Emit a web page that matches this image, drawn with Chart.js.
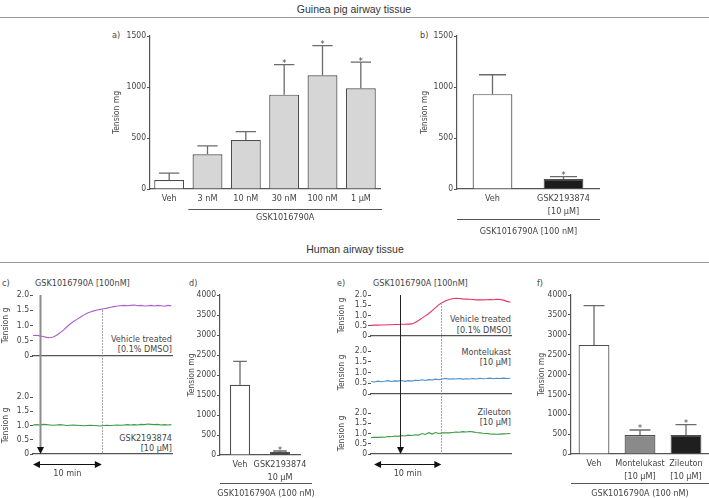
<!DOCTYPE html>
<html>
<head>
<meta charset="utf-8">
<script src="https://cdn.jsdelivr.net/npm/chart.js@4.4.0/dist/chart.umd.min.js"></script>
<style>
  html, body { margin: 0; padding: 0; background: #fff; }
  #wrap { position: relative; width: 709px; height: 498px; overflow: hidden; }
  #wrap canvas { position: absolute; left: 0; top: 0; }
  .t { position: absolute; white-space: nowrap; color: #444; font-size: 9px; line-height: 1;
       font-family: 'Liberation Sans Narrow', 'DejaVu Sans Condensed', sans-serif; }
  .rule { position: absolute; height: 0; border-top: 1px solid #9a9a9a; }
</style>
</head>
<body>
<div id="wrap"></div>
<script>
// ---- data ----
// a) guinea pig, concentration response
const aLabels = ['Veh', '3 nM', '10 nM', '30 nM', '100 nM', '1 µM'];
const aMeans = [88, 340, 480, 925, 1115, 988];
const aErrors = [67, 82, 82, 295, 290, 255];
const aStars = [false, false, false, true, true, true];

// b) guinea pig, antagonist
const bLabels = ['Veh', ['GSK2193874', '[10 µM]']];
const bMeans = [930, 97];
const bErrors = [190, 25];
const bStars = [false, true];

// d) human, antagonist
const dLabels = ['Veh', ['GSK2193874', '10 µM']];
const dMeans = [1758, 75];
const dErrors = [585, 25];
const dStars = [false, true];

// f) human, leukotriene inhibitors
const fLabels = ['Veh', ['Montelukast', '[10 µM]'], ['Zileuton', '[10 µM]']];
const fMeans = [2745, 478, 478];
const fErrors = [987, 126, 259];
const fStars = [false, true, true];

// traces (tension g, sampled every 0.5 min)
const traceTimes = [0, 0.5, 1, 1.5, 2, 2.5, 3, 3.5, 4, 4.5, 5, 5.5, 6, 6.5, 7, 7.5, 8, 8.5, 9, 9.5,
  10, 10.5, 11, 11.5, 12, 12.5, 13, 13.5, 14, 14.5, 15, 15.5, 16, 16.5, 17, 17.5, 18, 18.5, 19, 19.5, 20, 20.5];
const cVehicle = [0.67, 0.68, 0.66, 0.64, 0.61, 0.60, 0.62, 0.68, 0.76, 0.85, 0.95, 1.05, 1.13, 1.20, 1.27, 1.34,
  1.40, 1.44, 1.48, 1.51, 1.53, 1.55, 1.57, 1.60, 1.62, 1.64, 1.65, 1.66, 1.65, 1.66, 1.67, 1.65, 1.66, 1.64,
  1.65, 1.66, 1.64, 1.66, 1.65, 1.63, 1.66, 1.65];
const cGsk = [1.02, 1.03, 1.02, 1.04, 1.03, 1.02, 1.01, 1.02, 1.03, 1.02, 1.00, 1.01, 1.02, 1.01, 1.00, 0.99,
  1.00, 1.01, 1.00, 0.99, 0.98, 1.00, 1.01, 1.00, 1.01, 1.02, 1.01, 1.02, 1.03, 1.02, 1.03, 1.02, 1.04, 1.03,
  1.05, 1.04, 1.03, 1.04, 1.02, 1.03, 1.02, 1.03];
const eVehicle = [0.52, 0.53, 0.53, 0.54, 0.54, 0.55, 0.55, 0.56, 0.56, 0.57, 0.57, 0.58, 0.59, 0.66, 0.76, 0.87,
  0.98, 1.10, 1.24, 1.38, 1.53, 1.64, 1.72, 1.78, 1.82, 1.84, 1.83, 1.81, 1.80, 1.79, 1.78, 1.76, 1.77, 1.76,
  1.77, 1.78, 1.77, 1.79, 1.78, 1.75, 1.69, 1.65];
const eMontelukast = [0.58, 0.56, 0.60, 0.57, 0.59, 0.62, 0.58, 0.61, 0.60, 0.63, 0.59, 0.62, 0.60, 0.64, 0.62,
  0.66, 0.63, 0.67, 0.65, 0.69, 0.66, 0.70, 0.72, 0.69, 0.71, 0.70, 0.72, 0.69, 0.71, 0.70, 0.72, 0.70, 0.73,
  0.71, 0.72, 0.74, 0.71, 0.73, 0.72, 0.74, 0.72, 0.73];
const eZileuton = [0.80, 0.82, 0.81, 0.83, 0.82, 0.85, 0.84, 0.88, 0.86, 0.90, 0.88, 0.92, 0.90, 0.94, 0.92, 1.00,
  0.95, 1.04, 0.97, 1.05, 1.00, 1.03, 1.04, 1.03, 1.05, 1.07, 1.06, 1.09, 1.07, 1.10, 1.08, 1.05, 1.03, 1.01,
  1.00, 0.98, 0.97, 0.96, 0.97, 0.98, 0.99, 1.00];
const traceSpan = 20.6;          // minutes shown on each trace
const cAddTime = 1.0;            // agonist added
const eAddTime = 4.3;
const cScaleBar = [0, 10.2];     // 10 min bar
const eScaleBar = [0.45, 10.35];

// ---- page helpers ----
const W = 709, H = 498;
const FONT = "'Liberation Sans Narrow', 'DejaVu Sans Condensed', sans-serif";
const TICK_SIZE = 8.5, LABEL_SIZE = 9;
const wrap = document.getElementById('wrap');

function newCanvas() {
  const c = document.createElement('canvas');
  c.width = W; c.height = H;
  c.style.width = W + 'px'; c.style.height = H + 'px';
  wrap.appendChild(c);
  return c;
}

function addText(str, x, y, align, size, family, color) {
  const d = document.createElement('div');
  d.className = 't';
  d.textContent = str;
  d.style.left = x + 'px';
  d.style.top = y + 'px';
  const tx = align === 'c' ? '-50%' : align === 'r' ? '-100%' : '0';
  d.style.transform = `translate(${tx}, -50%)`;
  if (size) d.style.fontSize = size + 'px';
  if (family) d.style.fontFamily = family;
  if (color) d.style.color = color;
  wrap.appendChild(d);
}

function addRule(x0, x1, y) {
  const r = document.createElement('div');
  r.className = 'rule';
  r.style.left = x0 + 'px';
  r.style.width = (x1 - x0) + 'px';
  r.style.top = y + 'px';
  wrap.appendChild(r);
}

// error bars, stars and the grouping line under the x labels
const errorBars = {
  id: 'errorBars',
  afterDatasetsDraw(chart, args, opts) {
    const ctx = chart.ctx, ys = chart.scales.y, xs = chart.scales.x;
    const bars = chart.getDatasetMeta(0).data;
    const means = chart.data.datasets[0].data;
    ctx.save();
    ctx.font = `${LABEL_SIZE}px ${FONT}`;
    ctx.textAlign = 'center';
    ctx.fillStyle = '#444';
    bars.forEach((bar, i) => {
      const yTop = ys.getPixelForValue(means[i] + opts.errs[i]);
      const half = bar.width * 0.34;
      ctx.strokeStyle = '#6b6b6b';
      ctx.lineWidth = 1.3;
      ctx.beginPath();
      ctx.moveTo(bar.x, bar.y);
      ctx.lineTo(bar.x, yTop);
      ctx.moveTo(bar.x - half, yTop);
      ctx.lineTo(bar.x + half, yTop);
      ctx.stroke();
      if (opts.stars[i]) {
        ctx.textBaseline = 'alphabetic';
        ctx.fillText('*', bar.x, yTop + 1.5);
      }
    });
    const g = opts.group;
    if (g) {
      const step = xs.getPixelForValue(1) - xs.getPixelForValue(0);
      const x0 = xs.getPixelForValue(g.from) - step / 2;
      const x1 = xs.getPixelForValue(g.to) + step / 2 + (g.extend || 0);
      const ly = Math.round(chart.chartArea.bottom + g.lineGap) + 0.5;
      ctx.strokeStyle = '#555';
      ctx.lineWidth = 1;
      ctx.beginPath();
      ctx.moveTo(x0, ly);
      ctx.lineTo(x1, ly);
      ctx.stroke();
      ctx.textBaseline = 'middle';
      ctx.fillText(g.text, (x0 + x1) / 2, ly + g.textGap);
    }
    ctx.restore();
  }
};

function barPanel(cfg) {
  const xh = 40;
  return new Chart(newCanvas(), {
    type: 'bar',
    data: {
      labels: cfg.labels,
      datasets: [{
        data: cfg.means,
        backgroundColor: cfg.colors,
        borderColor: '#4d4d4d',
        borderWidth: 1.2,
        borderSkipped: 'bottom',
        barPercentage: cfg.barPct,
        categoryPercentage: 1
      }]
    },
    options: {
      responsive: false,
      animation: false,
      devicePixelRatio: 1,
      events: [],
      layout: { padding: { left: cfg.area.x0 - cfg.yw, top: cfg.area.y0, right: W - cfg.area.x1, bottom: H - cfg.area.y1 - xh } },
      plugins: {
        legend: { display: false },
        tooltip: { enabled: false },
        errorBars: { errs: cfg.errs, stars: cfg.stars, group: cfg.group }
      },
      scales: {
        x: {
          afterFit: s => { s.height = xh; },
          grid: { display: false, drawTicks: false },
          border: { color: '#555', width: 1.2 },
          ticks: { padding: 4, color: '#444', font: { family: FONT, size: LABEL_SIZE, lineHeight: 1.35 }, maxRotation: 0, autoSkip: false }
        },
        y: {
          min: 0,
          max: cfg.yMax,
          afterFit: s => { s.width = cfg.yw; },
          border: { color: '#555', width: 1.2 },
          grid: { drawOnChartArea: false, tickLength: 3, color: '#555', lineWidth: 1 },
          ticks: { stepSize: cfg.yStep, padding: 1, autoSkip: false, color: '#444', font: { family: FONT, size: TICK_SIZE }, callback: v => String(v) },
          title: { display: true, text: 'Tension mg', color: '#444', font: { family: FONT, size: TICK_SIZE }, padding: 0 }
        }
      }
    },
    plugins: [errorBars]
  });
}

function tracePanel(cfg) {
  const xh = 1;
  return new Chart(newCanvas(), {
    type: 'line',
    data: {
      datasets: [{
        data: traceTimes.map((t, i) => ({ x: t, y: cfg.values[i] })),
        borderColor: cfg.color,
        borderWidth: 1.1,
        pointRadius: 0,
        tension: 0
      }]
    },
    options: {
      responsive: false,
      animation: false,
      devicePixelRatio: 1,
      events: [],
      layout: { padding: { left: cfg.area.x0 - cfg.yw, top: cfg.area.y0, right: W - cfg.area.x1, bottom: H - cfg.area.y1 - xh } },
      plugins: { legend: { display: false }, tooltip: { enabled: false } },
      scales: {
        x: {
          type: 'linear',
          min: 0,
          max: traceSpan,
          afterFit: s => { s.height = xh; },
          ticks: { display: false },
          grid: { display: false, drawTicks: false },
          border: { color: '#555', width: 1.2 }
        },
        y: {
          min: 0,
          max: 2,
          afterFit: s => { s.width = cfg.yw; },
          border: { display: false },
          grid: { drawOnChartArea: false, tickLength: 3, color: '#555' },
          ticks: { stepSize: 0.5, padding: 1, autoSkip: false, color: '#444', font: { family: FONT, size: TICK_SIZE },
                   callback: v => (v === 0 ? '0' : v.toFixed(1)) },
          title: { display: true, text: 'Tension g', color: '#444', font: { family: FONT, size: TICK_SIZE }, padding: 0 }
        }
      }
    },
    plugins: cfg.plugins || []
  });
}

// agonist arrow, dotted 10-min line and scale bar, drawn across a stack of traces
function traceMarks(topChart, m) {
  return {
    id: 'traceMarks',
    afterDraw(chart) {
      const ctx = chart.ctx, xs = chart.scales.x;
      const yTop = topChart.scales.y.getPixelForValue(2);
      const yBot = chart.chartArea.bottom;
      const ax = Math.round(xs.getPixelForValue(m.addTime)) + 0.5;
      ctx.save();
      ctx.strokeStyle = m.arrowColor;
      ctx.lineWidth = m.arrowWidth;
      ctx.beginPath();
      ctx.moveTo(ax, yTop);
      ctx.lineTo(ax, yBot - 6);
      ctx.stroke();
      ctx.fillStyle = '#111';
      ctx.beginPath();
      ctx.moveTo(ax - 3.5, yBot - 7);
      ctx.lineTo(ax + 3.5, yBot - 7);
      ctx.lineTo(ax, yBot);
      ctx.closePath();
      ctx.fill();

      const dx = Math.round(xs.getPixelForValue(m.scaleBar[1])) + 0.5;
      ctx.strokeStyle = '#8a8a8a';
      ctx.lineWidth = 1;
      ctx.setLineDash([1.5, 1.5]);
      ctx.beginPath();
      ctx.moveTo(dx, topChart.scales.y.getPixelForValue(m.dottedFrom));
      ctx.lineTo(dx, yBot);
      ctx.stroke();
      ctx.setLineDash([]);

      const sy = Math.round(yBot + 10) + 0.5;
      const s0 = xs.getPixelForValue(m.scaleBar[0]);
      const s1 = xs.getPixelForValue(m.scaleBar[1]);
      ctx.strokeStyle = '#111';
      ctx.lineWidth = 1.2;
      ctx.beginPath();
      ctx.moveTo(s0 + 5, sy);
      ctx.lineTo(s1 - 5, sy);
      ctx.stroke();
      ctx.beginPath();
      ctx.moveTo(s0, sy); ctx.lineTo(s0 + 7, sy - 3.5); ctx.lineTo(s0 + 7, sy + 3.5); ctx.closePath();
      ctx.moveTo(s1, sy); ctx.lineTo(s1 - 7, sy - 3.5); ctx.lineTo(s1 - 7, sy + 3.5); ctx.closePath();
      ctx.fill();
      ctx.fillStyle = '#444';
      ctx.font = `${LABEL_SIZE}px ${FONT}`;
      ctx.textAlign = 'center';
      ctx.textBaseline = 'middle';
      ctx.fillText('10 min', (s0 + s1) / 2, sy + 9);
      ctx.restore();
    }
  };
}

// ---- headers ----
const TITLE_FONT = "'Liberation Sans', 'DejaVu Sans', sans-serif";
addText('Guinea pig airway tissue', 354, 9, 'c', 10.5, TITLE_FONT, '#333');
addRule(0, W, 17);
addText('Human airway tissue', 355, 249, 'c', 10.5, TITLE_FONT, '#333');
addRule(0, W, 262);

addText('a)', 112, 35, 'l');
addText('b)', 420, 35, 'l');
addText('c)', 2, 283, 'l');
addText('d)', 189, 283, 'l');
addText('e)', 337, 283, 'l');
addText('f)', 537, 283, 'l');
addText('GSK1016790A [100nM]', 35, 283, 'l');
addText('GSK1016790A [100nM]', 373, 283, 'l');

addText('Vehicle treated', 172, 339, 'r');
addText('[0.1% DMSO]', 172, 349, 'r');
addText('GSK2193874', 172, 438, 'r');
addText('[10 µM]', 172, 448, 'r');
addText('Vehicle treated', 511, 319, 'r');
addText('[0.1% DMSO]', 511, 330, 'r');
addText('Montelukast', 511, 352, 'r');
addText('[10 µM]', 511, 362, 'r');
addText('Zileuton', 511, 412, 'r');
addText('[10 µM]', 511, 422, 'r');

// ---- bar panels ----
barPanel({
  area: { x0: 150, x1: 380, y0: 36, y1: 189 }, yw: 38,
  labels: aLabels, means: aMeans, errs: aErrors, stars: aStars,
  colors: ['#ffffff', '#d6d6d6', '#d6d6d6', '#d6d6d6', '#d6d6d6', '#d6d6d6'],
  yMax: 1500, yStep: 500, barPct: 0.78,
  group: { from: 1, to: 5, text: 'GSK1016790A', lineGap: 20, textGap: 8, extend: 2 }
});
barPanel({
  area: { x0: 457, x1: 599, y0: 36, y1: 189 }, yw: 37,
  labels: bLabels, means: bMeans, errs: bErrors, stars: bStars,
  colors: ['#ffffff', '#1c1c1c'],
  yMax: 1500, yStep: 500, barPct: 0.56,
  group: { from: 0, to: 1, text: 'GSK1016790A [100 nM]', lineGap: 30, textGap: 12, extend: 1 }
});
barPanel({
  area: { x0: 220, x1: 300, y0: 295, y1: 455 }, yw: 33,
  labels: dLabels, means: dMeans, errs: dErrors, stars: dStars,
  colors: ['#ffffff', '#1c1c1c'],
  yMax: 4000, yStep: 500, barPct: 0.5,
  group: { from: 0, to: 1, text: 'GSK1016790A (100 nM)', lineGap: 28, textGap: 10, extend: 12 }
});
barPanel({
  area: { x0: 571, x1: 709, y0: 295, y1: 454 }, yw: 34,
  labels: fLabels, means: fMeans, errs: fErrors, stars: fStars,
  colors: ['#ffffff', '#8a8a8a', '#1f1f1f'],
  yMax: 4000, yStep: 500, barPct: 0.67,
  group: { from: 0, to: 2, text: 'GSK1016790A (100 nM)', lineGap: 29, textGap: 10, extend: 0 }
});

// ---- trace panels ----
const cTop = tracePanel({ area: { x0: 33, x1: 172, y0: 295, y1: 356 }, yw: 32, values: cVehicle, color: '#a95fd3' });
tracePanel({
  area: { x0: 33, x1: 172, y0: 397, y1: 454 }, yw: 32, values: cGsk, color: '#3d9a45',
  plugins: [traceMarks(cTop, { addTime: cAddTime, scaleBar: cScaleBar, dottedFrom: 1.5, arrowColor: '#8c8c8c', arrowWidth: 2 })]
});

const eTop = tracePanel({ area: { x0: 371, x1: 511, y0: 295, y1: 336 }, yw: 34, values: eVehicle, color: '#e8325f' });
tracePanel({ area: { x0: 371, x1: 511, y0: 351, y1: 394 }, yw: 34, values: eMontelukast, color: '#4a8fd0' });
tracePanel({
  area: { x0: 371, x1: 511, y0: 413, y1: 454 }, yw: 34, values: eZileuton, color: '#3d9a45',
  plugins: [traceMarks(eTop, { addTime: eAddTime, scaleBar: eScaleBar, dottedFrom: 1.6, arrowColor: '#222', arrowWidth: 1 })]
});
</script>
</body>
</html>
